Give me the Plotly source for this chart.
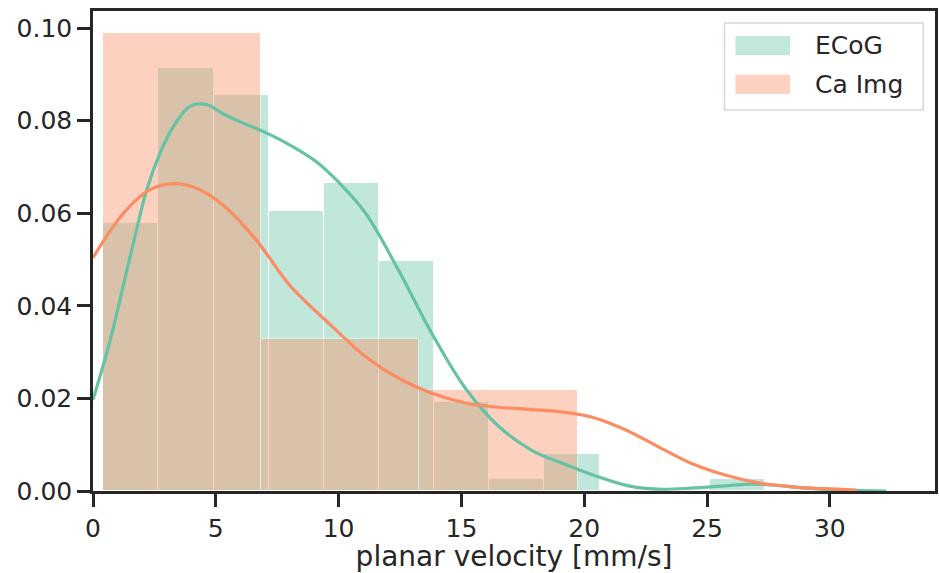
import numpy as np
import plotly.graph_objects as go

# Histogram bins (density) for each recording modality
ecog_edges = [0.42, 2.665, 4.91, 7.155, 9.40, 11.645, 13.89, 16.135, 18.38, 20.625, 22.87, 25.115, 27.36]
ecog_density = [0.0580, 0.0913, 0.0856, 0.0606, 0.0665, 0.0497, 0.0193, 0.0026, 0.0081, 0.0, 0.0, 0.0026]

caimg_edges = [0.39, 6.84, 13.29, 19.74]
caimg_density = [0.0989, 0.0328, 0.0218]

# Kernel density estimates
ecog_kde_x = [0.0, 0.70, 1.51, 2.19, 2.73, 3.27, 3.94, 4.62, 5.29, 5.97, 6.92, 8.0, 9.08,
              10.02, 11.1, 12.46, 13.8, 15.16, 16.51, 17.86, 19.21, 20.56, 21.9, 23.0,
              24.35, 25.7, 26.78, 27.7, 29.1, 30.5, 32.3]
ecog_kde_y = [0.0197, 0.0326, 0.0506, 0.0651, 0.0730, 0.0787, 0.0831, 0.0835, 0.0815,
              0.0798, 0.0777, 0.0748, 0.0712, 0.0666, 0.0600, 0.0475, 0.0340, 0.0222, 0.0140,
              0.0088, 0.0058, 0.0031, 0.0010, 0.0004, 0.0006, 0.0011, 0.0015, 0.0013,
              0.0006, 0.0002, 0.0]

caimg_kde_x = [0.0, 1.24, 2.32, 3.34, 4.35, 5.29, 6.65, 8.0, 9.75, 11.1, 12.46, 13.8,
               15.16, 16.51, 17.86, 19.21, 20.29, 21.65, 23.0, 24.35, 25.7, 27.05,
               28.4, 29.75, 31.1]
caimg_kde_y = [0.0504, 0.0600, 0.0651, 0.0664, 0.0651, 0.0618, 0.0542, 0.0445, 0.0355,
               0.0290, 0.0243, 0.0211, 0.0190, 0.0181, 0.0176, 0.0170, 0.0160, 0.0133,
               0.0096, 0.0060, 0.0035, 0.0018, 0.0009, 0.0005, 0.0002]

series_names = ["ECoG", "Ca Img"]
series_colors = ["#66c2a5", "#fc8d62"]

x_ticks = [0, 5, 10, 15, 20, 25, 30]
y_ticks = [0.00, 0.02, 0.04, 0.06, 0.08, 0.10]

FONT = "DejaVu Sans"
INK = "#262626"


def hist_trace(edges, dens, color, name):
    e = np.asarray(edges)
    centers = (e[:-1] + e[1:]) / 2
    widths = np.diff(e)
    return go.Bar(x=centers, y=dens, width=widths, name=name, showlegend=False,
                  marker=dict(color=color, line=dict(color="white", width=1)),
                  opacity=0.4, hoverinfo="skip")


fig = go.Figure()
fig.add_trace(hist_trace(ecog_edges, ecog_density, series_colors[0], series_names[0]))
fig.add_trace(hist_trace(caimg_edges, caimg_density, series_colors[1], series_names[1]))
fig.add_trace(go.Scatter(x=ecog_kde_x, y=ecog_kde_y, mode="lines", showlegend=False,
                         line=dict(color=series_colors[0], width=3.2, shape="spline", smoothing=1.0)))
fig.add_trace(go.Scatter(x=caimg_kde_x, y=caimg_kde_y, mode="lines", showlegend=False,
                         line=dict(color=series_colors[1], width=3.2, shape="spline", smoothing=1.0)))

axis_common = dict(showline=True, mirror=True, linecolor=INK, linewidth=2.5,
                   ticks="outside", ticklen=13, tickwidth=2.5, tickcolor=INK,
                   showgrid=False, zeroline=False,
                   tickfont=dict(family=FONT, size=25, color=INK))

fig.update_xaxes(range=[0, 34.28], tickvals=x_ticks, ticktext=[str(v) for v in x_ticks],
                 title=dict(text="planar velocity [mm/s]", font=dict(family=FONT, size=28, color=INK),
                            standoff=8),
                 **axis_common)
fig.update_yaxes(range=[0, 0.1037], tickvals=y_ticks, ticktext=[f"{v:.2f}" for v in y_ticks],
                 **axis_common)

# Legend box drawn in paper coordinates
shapes = [dict(type="rect", xref="paper", yref="paper", x0=0.750, x1=0.986, y0=0.794, y1=0.975,
               fillcolor="rgba(255,255,255,0.8)", line=dict(color="#d8d8d8", width=1.5))]
annotations = []
swatch_rows = [(0.908, 0.948, 0.928), (0.827, 0.867, 0.846)]
for (y0, y1, yc), name, color in zip(swatch_rows, series_names, series_colors):
    shapes.append(dict(type="rect", xref="paper", yref="paper", x0=0.763, x1=0.828, y0=y0, y1=y1,
                       fillcolor=color, opacity=0.4, line=dict(width=0)))
    annotations.append(dict(xref="paper", yref="paper", x=0.855, y=yc, text=name, showarrow=False,
                            xanchor="left", yanchor="middle",
                            font=dict(family=FONT, size=25, color=INK)))

fig.update_layout(width=939, height=573, margin=dict(l=93, r=1, t=11, b=82),
                  plot_bgcolor="white", paper_bgcolor="white",
                  barmode="overlay", bargap=0, shapes=shapes, annotations=annotations,
                  font=dict(family=FONT, color=INK))

fig.write_html("out.html")
